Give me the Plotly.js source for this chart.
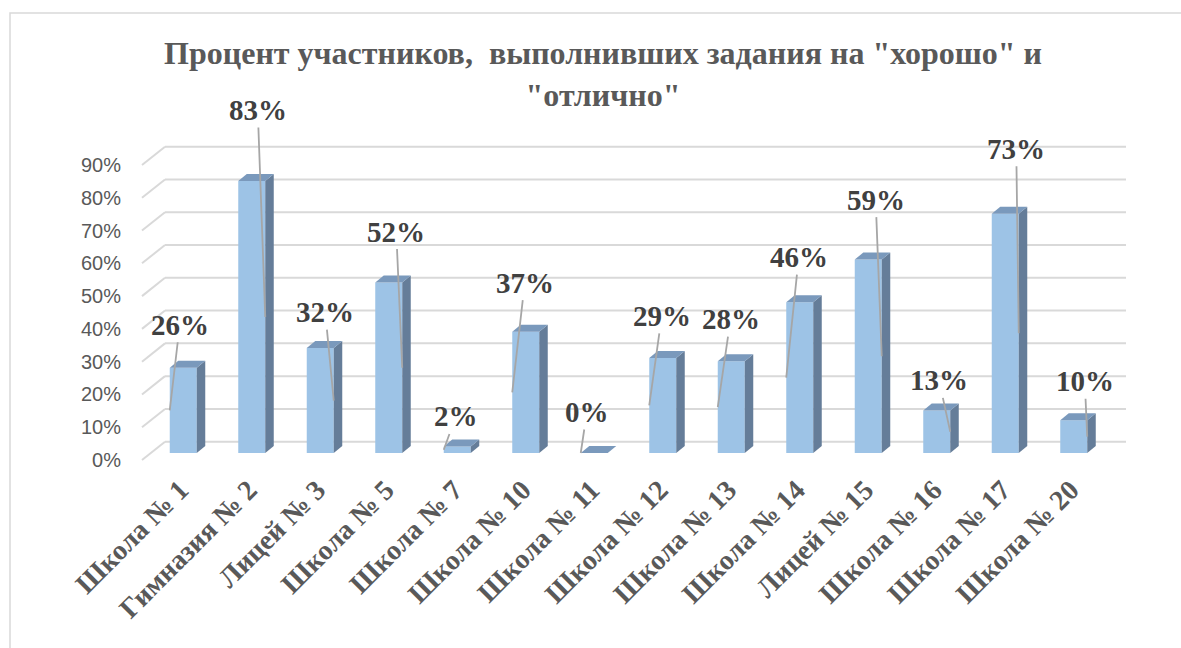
<!DOCTYPE html>
<html>
<head>
<meta charset="utf-8">
<script src="https://cdn.plot.ly/plotly-3.0.1.min.js"></script>
<style>html,body{margin:0;padding:0;background:#fff;}#chart{width:1181px;height:648px;}</style>
</head>
<body>
<div id="chart"></div>
<script>
// ---- data ----
const categories = ['Школа № 1','Гимназия № 2','Лицей № 3','Школа № 5','Школа № 7','Школа № 10','Школа № 11','Школа № 12','Школа № 13','Школа № 14','Лицей № 15','Школа № 16','Школа № 17','Школа № 20'];
const values = [0.26, 0.83, 0.32, 0.52, 0.02, 0.37, 0.00, 0.29, 0.28, 0.46, 0.59, 0.13, 0.73, 0.10];
const yTickVals = [0, 0.1, 0.2, 0.3, 0.4, 0.5, 0.6, 0.7, 0.8, 0.9];
const titleText = 'Процент участников,\u00a0 выполнивших задания на "хорошо" и<br>"отлично"';

// ---- label placement (pixels: dx from bar centre, height above bar top), leader side ----
const labelDx = [-3.5, 6, 5, 7.5, -1.5, -1, -7.4, -1, -0.7, -1, 7.4, 2.3, 11, 11];
const labelUp = [43, 71, 36, 51, 30, 49, 41, 42, 42, 45, 60, 30, 65, 39];
const leaderSide = [-1, 1, 1, 1, -1, -1, -1, -1, -1, -1, 1, 1, 1, 1];

// ---- geometry constants ----
const W = 1181, H = 648;
const M = {l: 132, r: 52, t: 140, b: 178};
const PXX = 68.5, PXY = 327.8;           // px per category, px per 100%
const firstCenterPx = 183.25, zeroPx = 453;
const plotW = W - M.l - M.r, plotH = H - M.t - M.b;
const x0 = -(firstCenterPx - M.l) / PXX, x1 = x0 + plotW / PXX;
const yTop = (zeroPx - M.t) / PXY, yBot = yTop - plotH / PXY;
const BAR_W = 27 / PXX;
const DX = 8.5 / PXX, DY = 7 / PXY;
const BACK_DY = 11.3 / PXY, FRONT_DY = 7 / PXY;
const xBackL = x0 + (165 - M.l) / PXX, xBackR = x0 + (1126 - M.l) / PXX, xFront = x0 + (142 - M.l) / PXX;

const idx = categories.map((c, i) => i);
const shapes = [];
// walls / gridlines
yTickVals.forEach(v => {
  shapes.push({type: 'line', xref: 'x', yref: 'y', layer: 'below', x0: xBackL, x1: xBackR, y0: v + BACK_DY, y1: v + BACK_DY, line: {color: '#d9d9d9', width: 2}});
  shapes.push({type: 'line', xref: 'x', yref: 'y', layer: 'below', x0: xFront, y0: v - FRONT_DY, x1: xBackL, y1: v + BACK_DY, line: {color: '#d9d9d9', width: 2}});
});
// 3D faces of bars
values.forEach((v, i) => {
  const L = i - BAR_W / 2, R = i + BAR_W / 2;
  shapes.push({type: 'path', xref: 'x', yref: 'y', layer: 'above', line: {width: 0}, fillcolor: '#657d99',
    path: `M${R},0 L${R + DX},${DY} L${R + DX},${v + DY} L${R},${v} Z`});
  shapes.push({type: 'path', xref: 'x', yref: 'y', layer: 'above', line: {width: 0}, fillcolor: '#7a99bc',
    path: `M${L},${v} L${L + DX},${v + DY} L${R + DX},${v + DY} L${R},${v} Z`});
});
// outer chart border
const px2paperX = px => (px - M.l) / plotW, px2paperY = py => (H - M.b - py) / plotH;
shapes.push({type: 'rect', xref: 'paper', yref: 'paper', x0: px2paperX(10), x1: px2paperX(1220), y0: px2paperY(700), y1: px2paperY(13), line: {color: '#d9d9d9', width: 1.5}});

const annotations = values.map((v, i) => ({
  xref: 'x', yref: 'y', axref: 'x', ayref: 'y',
  x: i + leaderSide[i] * BAR_W / 2, y: v / 2,
  ax: i + labelDx[i] / PXX, ay: v + labelUp[i] / PXY,
  text: Math.round(v * 100) + '%',
  showarrow: true, arrowhead: 0, arrowwidth: 1.8, arrowcolor: '#a6a6a6', standoff: 0,
  font: {family: 'Liberation Serif', size: 29, color: '#404040', weight: 'bold'}
}));

const trace = {
  type: 'bar', x: idx, y: values, width: BAR_W,
  marker: {color: '#9dc3e6', line: {width: 0}},
  hoverinfo: 'none'
};

const layout = {
  width: W, height: H, margin: M,
  paper_bgcolor: '#fff', plot_bgcolor: 'rgba(0,0,0,0)',
  showlegend: false,
  title: {text: titleText, xref: 'container', yref: 'container', x: 603 / W, y: 1 - 64 / H, xanchor: 'center', yanchor: 'middle',
    font: {family: 'Liberation Serif', size: 32, color: '#595959', weight: 'bold'}},
  xaxis: {type: 'linear', range: [x0, x1], tickvals: idx, ticktext: categories, tickangle: -45,
    showgrid: false, zeroline: false, showline: false, ticks: '',
    ticklabelstandoff: -3, ticklabelshift: -3,
    tickfont: {family: 'Liberation Serif', size: 28, color: '#595959', weight: 'bold'}},
  yaxis: {range: [yBot, yTop], tickvals: yTickVals, tickformat: '.0%', showgrid: false, zeroline: false, showline: false, ticks: '',
    ticklabelshift: 7, ticklabelstandoff: 10,
    tickfont: {family: 'Liberation Sans', size: 20, color: '#595959'}},
  shapes: shapes, annotations: annotations
};

Plotly.newPlot('chart', [trace], layout, {displayModeBar: false, staticPlot: true});
</script>
</body>
</html>
